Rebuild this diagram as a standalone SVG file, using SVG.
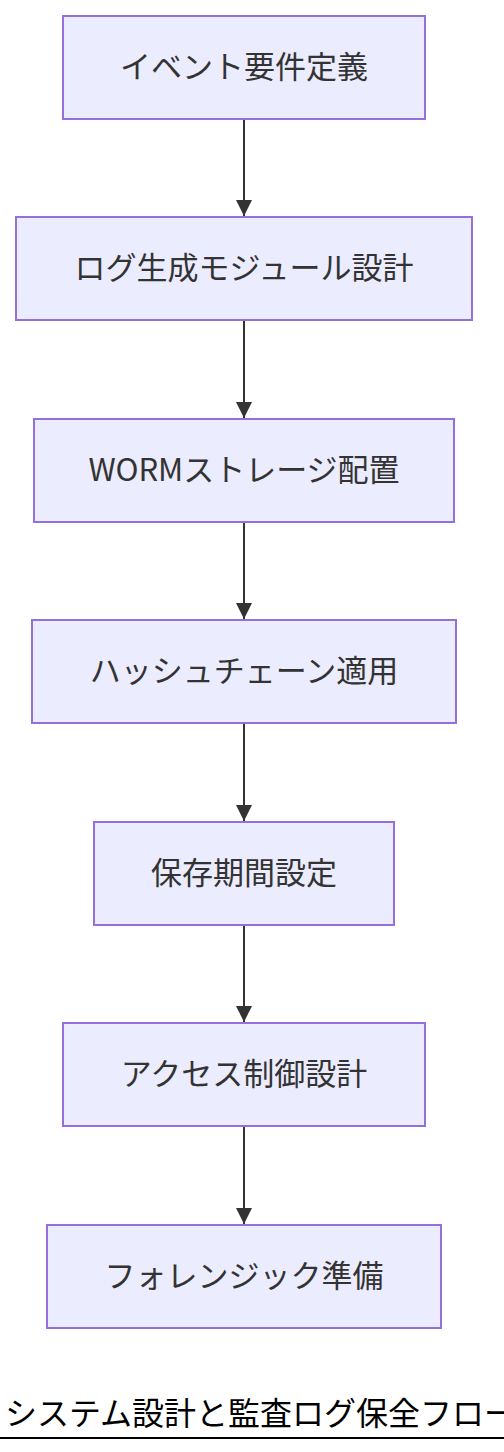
<svg xmlns="http://www.w3.org/2000/svg" width="504" height="1452" viewBox="0 0 504 1452">
<style>
.node rect{fill:#ECECFF;stroke:#9370DB;stroke-width:2}
.node text{font-family:"Noto Sans CJK JP","Noto Sans",sans-serif;font-size:31px;fill:#333;text-anchor:middle;dominant-baseline:central}
.edge{stroke:#333;stroke-width:2;fill:none}
.title{font-family:"Noto Sans CJK JP","Noto Sans",sans-serif;font-size:32px;fill:#000}
</style>
<defs>
<marker id="arrow" markerUnits="userSpaceOnUse" markerWidth="16" markerHeight="16" viewBox="0 0 16 16" refX="16" refY="8" orient="auto">
<path d="M0,0 L16,8 L0,16 z" fill="#333"/>
</marker>
</defs>
<g id="connectors">
<line class="edge" x1="244" y1="120" x2="244" y2="216" marker-end="url(#arrow)"/>
<line class="edge" x1="244" y1="321" x2="244" y2="418" marker-end="url(#arrow)"/>
<line class="edge" x1="244" y1="523" x2="244" y2="619" marker-end="url(#arrow)"/>
<line class="edge" x1="244" y1="724" x2="244" y2="821" marker-end="url(#arrow)"/>
<line class="edge" x1="244" y1="926" x2="244" y2="1022" marker-end="url(#arrow)"/>
<line class="edge" x1="244" y1="1127" x2="244" y2="1224" marker-end="url(#arrow)"/>
</g>
<g id="n1" class="node"><rect x="63" y="16" width="362" height="103"/><text x="244" y="64">イベント要件定義</text></g>
<g id="n2" class="node"><rect x="16" y="217" width="456" height="103"/><text x="244" y="265">ログ生成モジュール設計</text></g>
<g id="n3" class="node"><rect x="34" y="419" width="420" height="103"/><text x="244" y="467">WORMストレージ配置</text></g>
<g id="n4" class="node"><rect x="32" y="620" width="424" height="103"/><text x="244" y="668">ハッシュチェーン適用</text></g>
<g id="n5" class="node"><rect x="94" y="822" width="300" height="103"/><text x="244" y="870">保存期間設定</text></g>
<g id="n6" class="node"><rect x="63" y="1023" width="362" height="103"/><text x="244" y="1071">アクセス制御設計</text></g>
<g id="n7" class="node"><rect x="47" y="1225" width="394" height="103"/><text x="244" y="1273">フォレンジック準備</text></g>
<g id="title">
<text class="title" x="5" y="1425">システム設計と監査ログ保全フロー</text>
<line x1="0" y1="1438" x2="504" y2="1438" stroke="#000" stroke-width="2"/>
</g>
</svg>
